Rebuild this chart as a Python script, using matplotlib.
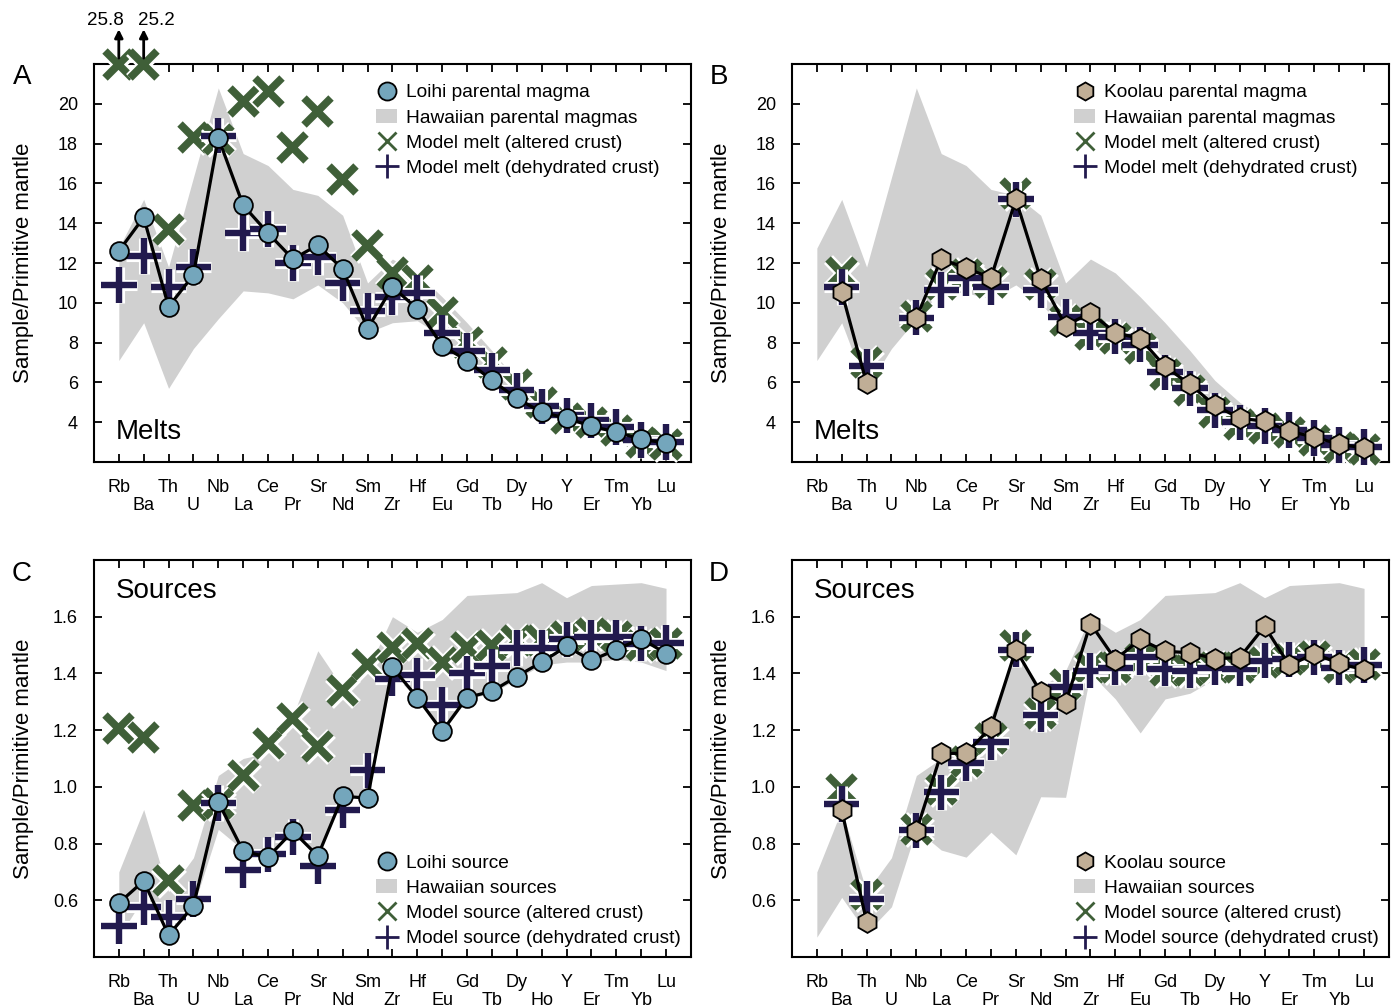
import numpy as np
import matplotlib
matplotlib.use("Agg")
import matplotlib.pyplot as plt
import matplotlib.patheffects as pe
from matplotlib.lines import Line2D
from matplotlib.patches import Patch

plt.rcParams['font.family'] = ['Liberation Sans', 'DejaVu Sans']

nan = np.nan
elements = ['Rb', 'Ba', 'Th', 'U', 'Nb', 'La', 'Ce', 'Pr', 'Sr', 'Nd', 'Sm', 'Zr',
            'Hf', 'Eu', 'Gd', 'Tb', 'Dy', 'Ho', 'Y', 'Er', 'Tm', 'Yb', 'Lu']

# ---- Panel A: melts (Loihi) ----
loihi_melt = [12.6, 14.3, 9.8, 11.4, 18.3, 14.9, 13.5, 12.2, 12.9, 11.7, 8.7, 10.8,
              9.7, 7.85, 7.1, 6.1, 5.2, 4.5, 4.2, 3.8, 3.5, 3.15, 2.95]
melt_altered_A = [25.8, 25.2, 13.7, 18.3, 18.2, 20.1, 20.6, 17.8, 19.6, 16.2, 12.9, 11.5,
                  11.1, 9.5, 8.0, 7.0, 5.9, 5.0, 4.2, 4.0, 3.6, 3.0, 2.9]
melt_dehyd_A = [10.9, 12.35, 10.8, 11.8, 18.4, 13.5, 13.7, 12.0, 12.3, 11.0, 9.6, 10.3,
                10.5, 8.5, 7.6, 6.6, 5.6, 4.8, 4.35, 4.1, 3.75, 3.1, 3.0]

# ---- Panel B: melts (Koolau) ----
koolau_melt = [nan, 10.55, 5.95, nan, 9.25, 12.2, 11.75, 11.25, 15.2, 11.2, 8.85, 9.5,
               8.5, 8.2, 6.8, 5.9, 4.85, 4.2, 4.05, 3.55, 3.25, 2.9, 2.7]
melt_altered_B = [nan, 11.5, 7.0, nan, 9.3, 10.9, 11.4, 11.0, 15.5, 10.9, 9.1, 8.4,
                  8.2, 7.7, 6.4, 5.6, 4.5, 3.9, 3.7, 3.5, 3.1, 2.75, 2.65]
melt_dehyd_B = [nan, 10.8, 6.8, nan, 9.25, 10.65, 11.25, 10.8, 15.2, 10.65, 9.3, 8.5,
                8.3, 7.9, 6.5, 5.7, 4.6, 4.0, 3.8, 3.6, 3.2, 2.85, 2.75]

# Hawaiian parental magmas range
haw_melt_upper = [12.75, 15.2, 11.8, 16.3, 20.8, 17.5, 16.9, 15.7, 15.4, 14.4, 11.0, 12.2,
                  11.5, 10.3, 9.0, 7.6, 6.1, 5.0, 4.2, 3.8, 3.45, 3.1, 2.95]
haw_melt_lower = [7.1, 9.0, 5.7, 7.7, 9.2, 10.6, 10.5, 10.2, 10.9, 10.0, 8.5, 9.0,
                  9.1, 8.3, 7.2, 5.9, 5.0, 4.4, 4.0, 3.6, 3.3, 3.0, 2.8]

# ---- Panel C: sources (Loihi) ----
loihi_src = [0.59, 0.668, 0.477, 0.58, 0.946, 0.773, 0.752, 0.844, 0.756, 0.967, 0.96, 1.421,
             1.315, 1.196, 1.315, 1.337, 1.389, 1.44, 1.495, 1.446, 1.484, 1.523, 1.47]
src_altered_C = [1.206, 1.175, 0.67, 0.935, 0.94, 1.04, 1.154, 1.24, 1.143, 1.34, 1.43, 1.49,
                 1.505, 1.44, 1.49, 1.497, 1.516, 1.516, 1.53, 1.54, 1.53, 1.50, 1.505]
src_dehyd_C = [0.509, 0.576, 0.54, 0.604, 0.943, 0.706, 0.762, 0.823, 0.72, 0.918, 1.058, 1.382,
               1.393, 1.29, 1.40, 1.425, 1.49, 1.49, 1.52, 1.527, 1.527, 1.505, 1.507]

# ---- Panel D: sources (Koolau) ----
koolau_src = [nan, 0.918, 0.523, nan, 0.844, 1.118, 1.118, 1.21, 1.484, 1.333, 1.294, 1.576,
              1.449, 1.52, 1.478, 1.473, 1.452, 1.456, 1.566, 1.428, 1.47, 1.435, 1.413]
src_altered_D = [nan, 0.99, 0.62, nan, 0.85, 0.99, 1.09, 1.17, 1.50, 1.26, 1.36, 1.42,
                 1.42, 1.45, 1.41, 1.41, 1.42, 1.42, 1.44, 1.45, 1.46, 1.42, 1.43]
src_dehyd_D = [nan, 0.939, 0.604, nan, 0.846, 0.98, 1.083, 1.157, 1.484, 1.255, 1.351, 1.41,
               1.42, 1.457, 1.417, 1.41, 1.42, 1.417, 1.445, 1.45, 1.457, 1.42, 1.43]

# Hawaiian sources range
haw_src_upper = [0.70, 0.92, 0.63, 0.75, 1.04, 1.10, 1.12, 1.25, 1.48, 1.35, 1.41, 1.60,
                 1.545, 1.59, 1.675, 1.68, 1.685, 1.72, 1.667, 1.71, 1.715, 1.72, 1.70]
haw_src_lower = [0.47, 0.61, 0.485, 0.577, 0.85, 0.777, 0.752, 0.84, 0.76, 0.965, 0.963, 1.40,
                 1.31, 1.19, 1.31, 1.33, 1.38, 1.43, 1.44, 1.44, 1.45, 1.44, 1.41]

# ---- styles ----
C_CIRC = '#74a6bc'
C_HEX = '#c0ae96'
C_GREEN = '#3f5f38'
C_NAVY = '#221a4e'
C_BAND = '#d0d0d0'

x = np.arange(len(elements))

fig = plt.figure(figsize=(14, 10.07), dpi=100)
pos = {
    'A': [0.0671, 0.5412, 0.4264, 0.3952],
    'B': [0.5657, 0.5412, 0.4264, 0.3952],
    'C': [0.0671, 0.0497, 0.4264, 0.3942],
    'D': [0.5657, 0.0497, 0.4264, 0.3942],
}

white_x = [pe.withStroke(linewidth=9, foreground='white')]
white_p = [pe.withStroke(linewidth=8, foreground='white')]


def setup_axes(ax, ylim, yticks, fmt):
    ax.set_xlim(-1, 23)
    ax.set_ylim(*ylim)
    ax.set_yticks(yticks)
    ax.set_yticklabels([fmt.format(v) for v in yticks], fontsize=13)
    ax.set_xticks(x[0::2])
    ax.set_xticklabels(elements[0::2], fontsize=13)
    ax.set_xticks(x[1::2], minor=True)
    ax.set_xticklabels(elements[1::2], minor=True, fontsize=13)
    ax.tick_params(axis='both', which='both', direction='in', top=True, right=True,
                   length=5.5, width=1.3)
    ax.tick_params(axis='x', which='major', pad=12.5)
    ax.tick_params(axis='x', which='minor', pad=25)
    ax.tick_params(axis='y', which='major', pad=11.5)
    for s in ax.spines.values():
        s.set_linewidth(1.5)
    ax.set_ylabel('Sample/Primitive mantle', fontsize=16)
    ax.yaxis.set_label_coords(-0.101, 0.5)


def draw(ax, sample, altered, dehyd, upper, lower, marker, fill, ylim):
    ax.fill_between(x, lower, upper, color=C_BAND, lw=0, zorder=1)
    alt_plot = np.minimum(np.array(altered, dtype=float), ylim[1])
    ax.plot(x, alt_plot, ls='none', marker='x', ms=19.5, mew=5.5, color=C_GREEN,
            path_effects=white_x, zorder=3, clip_on=False)
    ax.plot(x, dehyd, ls='none', marker='+', ms=25.5, mew=4.6, color=C_NAVY,
            path_effects=white_p, zorder=4, clip_on=False)
    ax.plot(x, sample, color='black', lw=2.3, marker=marker, ms=13.5 if marker == 'o' else 15,
            mfc=fill, mec='black', mew=1.3, zorder=5, clip_on=False)


def legend(ax, marker, fill, labels, anchor_y):
    handles = [
        Line2D([], [], ls='none', marker=marker, ms=13, mfc=fill, mec='black', mew=1.3),
        Patch(facecolor=C_BAND, edgecolor='none'),
        Line2D([], [], ls='none', marker='x', ms=13, mew=2, color=C_GREEN),
        Line2D([], [], ls='none', marker='+', ms=17, mew=2, color=C_NAVY),
    ]
    ax.legend(handles, labels, loc='upper left', bbox_to_anchor=(0.473, anchor_y),
              frameon=False, fontsize=13.8, handlelength=1.1, handletextpad=0.45,
              labelspacing=0.41, borderpad=0, borderaxespad=0)


melt_lim = (2, 22)
src_lim = (0.4, 1.8)
melt_ticks = [4, 6, 8, 10, 12, 14, 16, 18, 20]
src_ticks = [0.6, 0.8, 1.0, 1.2, 1.4, 1.6]

axA = fig.add_axes(pos['A'])
setup_axes(axA, melt_lim, melt_ticks, '{:d}')
draw(axA, loihi_melt, melt_altered_A, melt_dehyd_A, haw_melt_upper, haw_melt_lower,
     'o', C_CIRC, melt_lim)
legend(axA, 'o', C_CIRC, ['Loihi parental magma', 'Hawaiian parental magmas',
                          'Model melt (altered crust)', 'Model melt (dehydrated crust)'], 0.95)
axA.text(0.037, 0.075, 'Melts', transform=axA.transAxes, fontsize=20, va='center')
# off-scale arrows
for i, dx in zip([0, 1], [-0.56, 0.52]):
    v = melt_altered_A[i]
    axA.annotate('', xy=(i, 23.75), xytext=(i, 22.3),
                 arrowprops=dict(arrowstyle='-|>', lw=2, color='black', mutation_scale=12,
                                 shrinkA=0, shrinkB=0),
                 annotation_clip=False)
    axA.text(i + dx, 24.2, f'{v:.1f}', ha='center', va='center', fontsize=13.5, clip_on=False)

axB = fig.add_axes(pos['B'])
setup_axes(axB, melt_lim, melt_ticks, '{:d}')
draw(axB, koolau_melt, melt_altered_B, melt_dehyd_B, haw_melt_upper, haw_melt_lower,
     'h', C_HEX, melt_lim)
legend(axB, 'h', C_HEX, ['Koolau parental magma', 'Hawaiian parental magmas',
                         'Model melt (altered crust)', 'Model melt (dehydrated crust)'], 0.95)
axB.text(0.037, 0.075, 'Melts', transform=axB.transAxes, fontsize=20, va='center')

axC = fig.add_axes(pos['C'])
setup_axes(axC, src_lim, src_ticks, '{:.1f}')
draw(axC, loihi_src, src_altered_C, src_dehyd_C, haw_src_upper, haw_src_lower,
     'o', C_CIRC, src_lim)
legend(axC, 'o', C_CIRC, ['Loihi source', 'Hawaiian sources',
                          'Model source (altered crust)', 'Model source (dehydrated crust)'], 0.259)
axC.text(0.037, 0.922, 'Sources', transform=axC.transAxes, fontsize=20, va='center')

axD = fig.add_axes(pos['D'])
setup_axes(axD, src_lim, src_ticks, '{:.1f}')
draw(axD, koolau_src, src_altered_D, src_dehyd_D, haw_src_upper, haw_src_lower,
     'h', C_HEX, src_lim)
legend(axD, 'h', C_HEX, ['Koolau source', 'Hawaiian sources',
                         'Model source (altered crust)', 'Model source (dehydrated crust)'], 0.259)
axD.text(0.037, 0.922, 'Sources', transform=axD.transAxes, fontsize=20, va='center')

for lab, (fx, fy) in {'A': (22, 77), 'B': (719, 77), 'C': (22, 574), 'D': (719, 574)}.items():
    fig.text(fx / 1400, 1 - fy / 1007, lab, fontsize=20, ha='center', va='center')

fig.savefig('out.png', dpi=100)
